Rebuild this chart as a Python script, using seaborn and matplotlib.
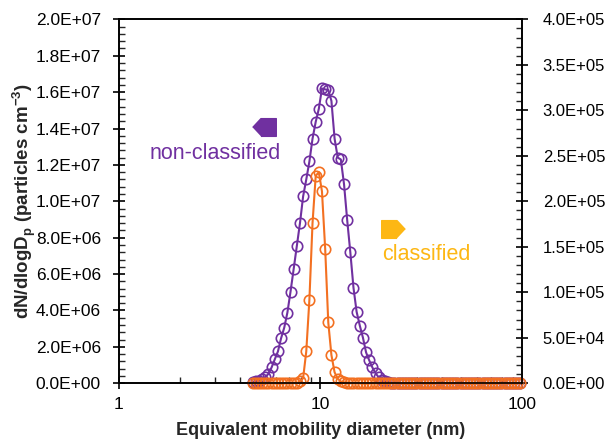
import numpy as np
import pandas as pd
import matplotlib.pyplot as plt
import matplotlib.ticker as mticker
import seaborn as sns

# mobility diameter bins (nm)
diameter = [4.61, 4.78, 4.95, 5.13, 5.32, 5.52, 5.72, 5.93, 6.15, 6.37,
            6.61, 6.85, 7.10, 7.36, 7.63, 7.91, 8.20, 8.50, 8.81, 9.13,
            9.47, 9.81, 10.17, 10.55, 10.93, 11.33, 11.75, 12.18, 12.62, 13.09,
            13.57, 14.06, 14.58, 15.11, 15.67, 16.24, 16.84, 17.45, 18.09, 18.76,
            19.44, 20.15, 20.89, 21.66, 22.45, 23.27, 24.13, 25.01, 25.93, 26.88,
            27.86, 28.88, 29.94, 31.04, 32.17, 33.35, 34.58, 35.84, 37.16, 38.52,
            39.93, 41.39, 42.91, 44.48, 46.11, 47.80, 49.55, 51.37, 53.25, 55.20,
            57.22, 59.32, 61.49, 63.74, 66.08, 68.50, 71.01, 73.61, 76.31, 79.11,
            82.00, 85.01, 88.12, 91.35, 94.70, 98.17]

# dN/dlogDp, left axis (particles cm-3)
non_classified = [0.05e6, 0.10e6, 0.15e6, 0.25e6, 0.33e6, 0.52e6, 0.87e6, 1.31e6, 1.75e6, 2.46e6,
                  3.06e6, 3.88e6, 5.03e6, 6.28e6, 7.54e6, 8.80e6, 10.27e6, 11.20e6, 12.19e6, 13.44e6,
                  14.37e6, 15.08e6, 16.20e6, 16.15e6, 16.12e6, 15.52e6, 13.44e6, 12.40e6, 12.30e6, 10.93e6,
                  8.96e6, 7.21e6, 5.25e6, 3.93e6, 3.17e6, 2.51e6, 1.69e6, 1.26e6, 0.87e6, 0.55e6,
                  0.33e6, 0.19e6, 0.11e6, 0.06e6, 0.03e6, 0.02e6, 0.01e6, 0.0, 0.0, 0.0,
                  0.0, 0.0, 0.0, 0.0, 0.0, 0.0, 0.0, 0.0, 0.0, 0.0,
                  0.0, 0.0, 0.0, 0.0, 0.0, 0.0, 0.0, 0.0, 0.0, 0.0,
                  0.0, 0.0, 0.0, 0.0, 0.0, 0.0, 0.0, 0.0, 0.0, 0.0,
                  0.0, 0.0, 0.0, 0.0, 0.0, 0.0]

# dN/dlogDp, right axis
classified = [0.0, 0.0, 0.0, 0.0, 0.0, 0.0, 0.0, 0.0, 0.0, 0.0,
              0.0, 0.0, 0.0, 0.0, 0.0, 2.0e3, 5.5e3, 3.5e4, 9.2e4, 1.76e5,
              2.28e5, 2.32e5, 2.11e5, 1.48e5, 6.7e4, 3.1e4, 1.2e4, 5.0e3, 2.0e3, 1.0e3,
              0.0, 0.0, 0.0, 0.0, 0.0, 0.0, 0.0, 0.0, 0.0, 0.0,
              0.0, 0.0, 0.0, 0.0, 0.0, 0.0, 0.0, 0.0, 0.0, 0.0,
              0.0, 0.0, 0.0, 0.0, 0.0, 0.0, 0.0, 0.0, 0.0, 0.0,
              0.0, 0.0, 0.0, 0.0, 0.0, 0.0, 0.0, 0.0, 0.0, 0.0,
              0.0, 0.0, 0.0, 0.0, 0.0, 0.0, 0.0, 0.0, 0.0, 0.0,
              0.0, 0.0, 0.0, 0.0, 0.0, 0.0]

purple = "#7030A0"
orange = "#F37021"
gold = "#FDB714"

sns.set_style("ticks")
plt.rcParams['font.family'] = ['Liberation Sans', 'DejaVu Sans']
plt.rcParams['mathtext.fontset'] = 'custom'
plt.rcParams['mathtext.rm'] = 'Liberation Sans'
plt.rcParams['mathtext.bf'] = 'Liberation Sans:bold'

fig = plt.figure(figsize=(6.09, 4.40), dpi=100)
ax = fig.add_axes([0.1954, 0.129, 0.6617, 0.827])
ax2 = ax.twinx()

line_kw = dict(marker='o', markersize=7.5, markerfacecolor='none',
               markeredgewidth=1.2, linewidth=1.5, clip_on=False)
sns.lineplot(x=diameter, y=non_classified, ax=ax, color=purple,
             markeredgecolor=purple, **line_kw)
sns.lineplot(x=diameter, y=classified, ax=ax2, color=orange,
             markeredgecolor=orange, **line_kw)

ax.set_xscale('log')
ax.set_xlim(1, 100)
ax.set_ylim(0, 2e7)
ax2.set_ylim(0, 4e5)

sci = mticker.FuncFormatter(lambda v, p: f"{v:.1E}")
ax.yaxis.set_major_locator(mticker.MultipleLocator(2e6))
ax.yaxis.set_minor_locator(mticker.MultipleLocator(4e5))
ax.yaxis.set_major_formatter(sci)
ax2.yaxis.set_major_locator(mticker.MultipleLocator(5e4))
ax2.yaxis.set_minor_locator(mticker.MultipleLocator(1e4))
ax2.yaxis.set_major_formatter(sci)
ax.xaxis.set_major_locator(mticker.LogLocator(base=10))
ax.xaxis.set_minor_locator(mticker.LogLocator(base=10, subs=np.arange(2, 10)))
ax.xaxis.set_major_formatter(mticker.FuncFormatter(lambda v, p: f"{v:g}"))
ax.xaxis.set_minor_formatter(mticker.NullFormatter())

for a in (ax, ax2):
    for s in a.spines.values():
        s.set_visible(True)
        s.set_linewidth(1.2)
        s.set_color('black')
ax.tick_params(which='major', direction='inout', length=8, width=1.2,
               labelsize=12.5, colors='black', top=False, right=False)
ax.tick_params(which='minor', direction='in', length=4, width=1,
               top=False, right=False)
ax.tick_params(axis='y', pad=9)
ax.tick_params(axis='x', pad=6)
ax2.tick_params(which='major', direction='inout', length=8, width=1.2,
                labelsize=12, colors='black', pad=11)
ax2.tick_params(which='minor', direction='in', length=4, width=1)

ax.set_xlabel("Equivalent mobility diameter (nm)", fontsize=13,
              fontweight='bold', labelpad=7)
ax.set_ylabel(r"dN/dlogD$_\mathbf{p}$ (particles cm$^\mathbf{-3}$)",
              fontsize=13.5, fontweight='bold', labelpad=-2)
ax2.set_ylabel("")

# axis indicators
house_left = [(-1, 0), (-0.3, 0.75), (1, 0.75), (1, -0.75), (-0.3, -0.75)]
house_right = [(1, 0), (0.3, 0.75), (-1, 0.75), (-1, -0.75), (0.3, -0.75)]
ax.plot([5.27], [1.41e7], marker=house_left, markersize=17, color=purple,
        linestyle='none')
ax.text(3.0, 1.26e7, "non-classified", color=purple, fontsize=15.5,
        ha='center', va='center')
ax.plot([22.8], [8.48e6], marker=house_right, markersize=17, color=gold,
        linestyle='none')
ax.text(33.7, 7.1e6, "classified", color=gold, fontsize=15.5,
        ha='center', va='center')

fig.savefig("out.png", dpi=100)
